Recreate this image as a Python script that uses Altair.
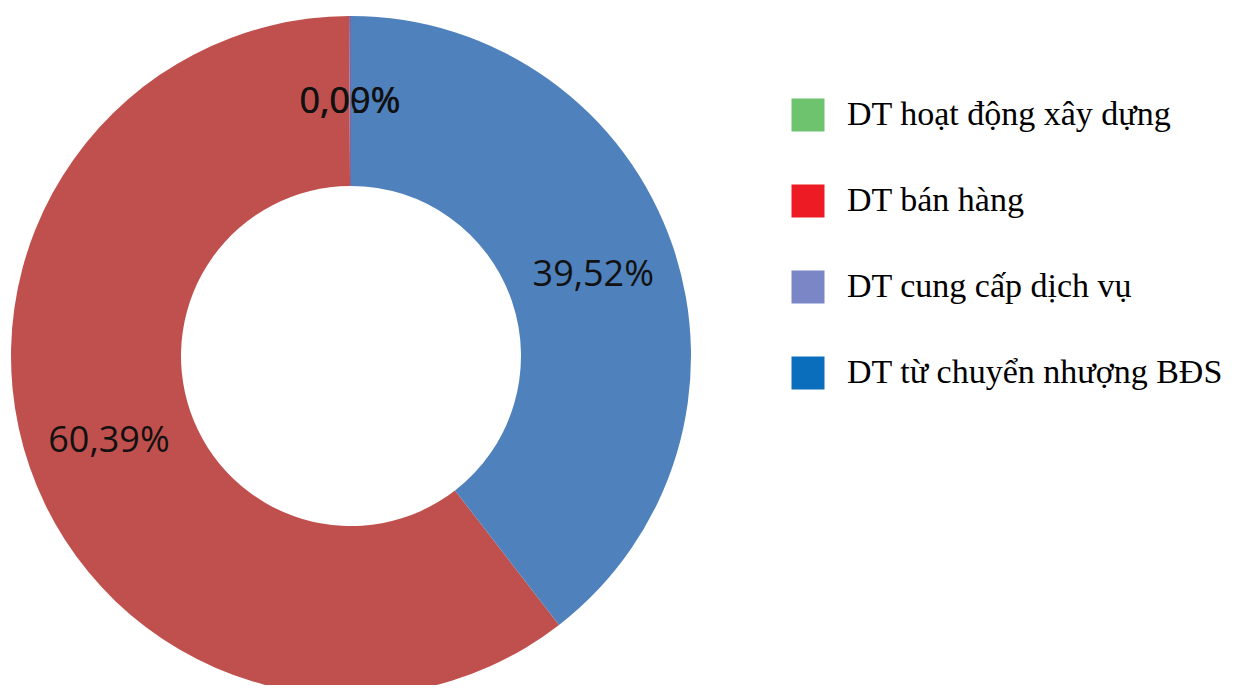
import altair as alt
import pandas as pd

categories = ["DT hoạt động xây dựng", "DT bán hàng", "DT cung cấp dịch vụ", "DT từ chuyển nhượng BĐS"]
values = [0.00, 60.39, 0.09, 39.52]
labels = ["0,00%", "60,39%", "0,09%", "39,52%"]
pie_order = [3, 2, 4, 1]
pie_colors = ["#9BBB59", "#C0504D", "#8064A2", "#4F81BD"]
legend_colors = ["#6DC36E", "#ED1C24", "#7A86C6", "#0A6EBD"]

df = pd.DataFrame({"cat": categories, "value": values, "label": labels, "ord": pie_order})

base = alt.Chart(df).encode(
    theta=alt.Theta("value:Q", stack=True),
    order=alt.Order("ord:Q", sort="ascending"),
)

arcs = base.mark_arc(outerRadius=340, innerRadius=170).encode(
    color=alt.Color("cat:N", scale=alt.Scale(domain=categories, range=pie_colors), legend=None),
    x=alt.value(343),
    y=alt.value(348),
)

text = base.mark_text(radius=256, font="Open Sans", fontSize=36, color="#111111").encode(
    text="label:N",
    x=alt.value(343),
    y=alt.value(350),
)

leg = alt.Chart(df).mark_square(opacity=0).encode(
    color=alt.Color(
        "cat:N",
        scale=alt.Scale(domain=categories, range=legend_colors),
        legend=alt.Legend(
            title=None,
            orient="none",
            legendX=783,
            legendY=90,
            symbolType="square",
            symbolSize=1089,
            symbolOpacity=1,
            symbolStrokeWidth=0,
            labelFont="Liberation Serif",
            labelFontSize=34,
            labelColor="#000000",
            labelOffset=22,
            rowPadding=52,
            padding=0,
            labelLimit=600,
        ),
    ),
    x=alt.value(0),
    y=alt.value(0),
)

chart = (
    alt.layer(arcs, text, leg)
    .resolve_scale(color="independent")
    .properties(width=1229, height=677, autosize="none", padding=0)
    .configure_view(stroke=None)
)

chart.save("out.html", embed_options={"renderer": "svg", "actions": False})
